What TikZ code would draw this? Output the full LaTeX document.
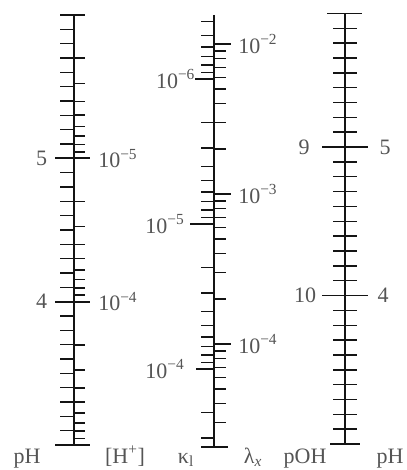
\documentclass[tikz,border=0pt]{standalone}
\usepackage{fontspec}
\setmainfont{Liberation Serif}
\usetikzlibrary{positioning}
\definecolor{inkcol}{RGB}{20, 20, 20}
\definecolor{textcol}{RGB}{85, 85, 85}
\tikzset{
  scaleline/.style = {draw=inkcol, line width=1.5pt},
  minortick/.style = {draw=inkcol, line width=1.1pt},
  majortick/.style = {draw=inkcol, line width=1.3pt},
  numlbl/.style    = {font=\fontsize{16.5}{19}\selectfont, text=textcol,
                      inner sep=1pt},
  namelbl/.style   = {numlbl, anchor=base},
}
% log10 of 2..9, for the log scales
\newcommand{\logsteps}{2/0.30103, 3/0.47712, 4/0.60206, 5/0.69897,
  6/0.77815, 7/0.84510, 8/0.90309, 9/0.95424}

\begin{document}
\begin{tikzpicture}[x=0.75pt, y=-0.75pt]
  \useasboundingbox (0,0) rectangle (406,470);

  %% ---------------- pH and [H+] ----------------
  \coordinate (phtop) at (74,15);
  \coordinate (phbot) at (74,445);
  \coordinate (ph5) at (74,158.33);
  \coordinate (ph4) at (74,301.67);
  \draw[scaleline] (phtop) -- (phbot);
  \foreach \i [evaluate=\i as \y using 445-\i*14.333] in {1,...,29}
    \draw[minortick] (60,\y) -- (74,\y);
  \foreach \dec in {15,158.33,301.67} {
    \foreach \k/\lgk in \logsteps {
      \pgfmathsetmacro\yy{\dec+143.33*\lgk}
      \draw[minortick] (74,\yy) -- (85,\yy);
    }
  }
  \draw[majortick] (60,15) -- (85,15);
  \draw[majortick] (55,158.33) -- (90,158.33);
  \draw[majortick] (55,301.67) -- (90,301.67);
  \draw[majortick] (55,445) -- (90,445);

  \node[numlbl, left=19pt of ph5] (lbl5) {5};
  \node[numlbl, left=19pt of ph4] (lbl4) {4};
  \node[numlbl, right=17pt of ph5] (lblh5) {10\textsuperscript{−5}};
  \node[numlbl, right=17pt of ph4] (lblh4) {10\textsuperscript{−4}};
  \node[namelbl] (phname) at (27,463) {pH};
  \node[namelbl] (hname) at (125,463) {[H\textsuperscript{+}]};

  %% ---------------- kappa and lambda ----------------
  \coordinate (ktop) at (214,15);
  \coordinate (kbot) at (214,447);
  \coordinate (k6) at (214,79);
  \coordinate (k5) at (214,224);
  \coordinate (k4) at (214,369);
  \coordinate (l2) at (214,44);
  \coordinate (l3) at (214,194);
  \coordinate (l4) at (214,344);
  \draw[scaleline] (ktop) -- (kbot);
  % kappa, left side: 4e-7 down to 3e-4
  \foreach \dec in {-66,79,224,369} {
    \foreach \k/\lgk in \logsteps {
      \pgfmathsetmacro\yy{\dec+145*\lgk}
      \ifdim\yy pt>18pt \ifdim\yy pt<445pt
        \draw[minortick] (201,\yy) -- (214,\yy);
      \fi\fi
    }
  }
  \draw[majortick] (195,79) -- (k6);
  \draw[majortick] (190,224) -- (k5);
  \draw[majortick] (196,369) -- (k4);
  % lambda, right side: 1e-2 down to 3e-5
  \foreach \dec in {194,344,494} {
    \foreach \k/\lgk in \logsteps {
      \pgfmathsetmacro\yy{\dec-150*\lgk}
      \ifdim\yy pt<445pt
        \draw[minortick] (214,\yy) -- (226,\yy);
      \fi
    }
  }
  \draw[majortick] (l2) -- (231,44);
  \draw[majortick] (l3) -- (231,194);
  \draw[majortick] (l4) -- (231,344);
  \draw[majortick] (201,447) -- (228,447);

  \node[numlbl, left=13pt of k6] (lblk6) {10\textsuperscript{−6}};
  \node[numlbl, left=21pt of k5] (lblk5) {10\textsuperscript{−5}};
  \node[numlbl, left=21pt of k4] (lblk4) {10\textsuperscript{−4}};
  \node[numlbl, right=17pt of l2] (lbll2) {10\textsuperscript{−2}};
  \node[numlbl, right=17pt of l3] (lbll3) {10\textsuperscript{−3}};
  \node[numlbl, right=17pt of l4] (lbll4) {10\textsuperscript{−4}};
  \node[namelbl] (kname) at (186,463) {κ\textsubscript{l}};
  \node[namelbl] (lname) at (253,463) {λ\textsubscript{\itshape x}};

  %% ---------------- pOH and pH ----------------
  \coordinate (ohtop) at (345,13.4);
  \coordinate (ohbot) at (345,444);
  \draw[scaleline] (ohtop) -- (ohbot);
  \foreach \i [evaluate=\i as \y using 13.4+\i*14.85] in {1,...,28}
    \draw[minortick] (333,\y) -- (357,\y);
  \draw[majortick] (327,13.4) -- (362,13.4);
  \draw[majortick] (322,147.05) -- (368,147.05);
  \draw[majortick] (322,295.55) -- (368,295.55);
  \draw[majortick] (330,444) -- (360,444);

  \node[numlbl] (lbl9) at (304,147.05) {9};
  \node[numlbl] (lbl10) at (305,295.55) {10};
  \node[numlbl] (lblr5) at (385,147.05) {5};
  \node[numlbl] (lblr4) at (383,295.55) {4};
  \node[namelbl] (ohname) at (305,463) {pOH};
  \node[namelbl] (phrname) at (390,463) {pH};

\end{tikzpicture}
\end{document}
